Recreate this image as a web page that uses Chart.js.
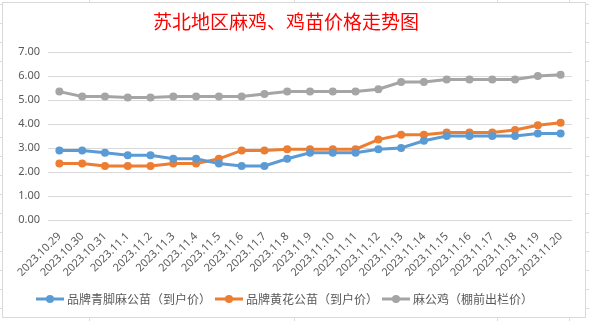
<!DOCTYPE html>
<html><head><meta charset="utf-8">
<script src="https://cdn.jsdelivr.net/npm/chart.js@4/dist/chart.umd.min.js"></script>
<style>html,body{margin:0;padding:0;background:#fff;}#wrap{width:589px;height:321px;position:relative;}</style>
</head><body><div id="wrap"><canvas id="c" width="589" height="321"></canvas></div>
<script>
const titleText = '苏北地区麻鸡、鸡苗价格走势图';
const categories = ['2023.10.29','2023.10.30','2023.10.31','2023.11.1','2023.11.2','2023.11.3','2023.11.4','2023.11.5','2023.11.6','2023.11.7','2023.11.8','2023.11.9','2023.11.10','2023.11.11','2023.11.12','2023.11.13','2023.11.14','2023.11.15','2023.11.16','2023.11.17','2023.11.18','2023.11.19','2023.11.20'];
const seriesNames = ['品牌青脚麻公苗（到户价）','品牌黄花公苗（到户价）','麻公鸡（棚前出栏价）'];
const blueValues = [2.9,2.9,2.8,2.7,2.7,2.55,2.55,2.35,2.25,2.25,2.55,2.8,2.8,2.8,2.95,3.0,3.3,3.5,3.5,3.5,3.5,3.6,3.6];
const orangeValues = [2.35,2.35,2.25,2.25,2.25,2.35,2.35,2.55,2.9,2.9,2.95,2.95,2.95,2.95,3.35,3.55,3.55,3.65,3.65,3.65,3.75,3.95,4.05];
const greyValues = [5.35,5.15,5.15,5.1,5.1,5.15,5.15,5.15,5.15,5.25,5.35,5.35,5.35,5.35,5.45,5.75,5.75,5.85,5.85,5.85,5.85,6.0,6.05];
const yTicks = [0,1,2,3,4,5,6,7];
const colors = ['#5B9BD5','#ED7D31','#A5A5A5'];

function legendIcon(color){
  const cv = document.createElement('canvas');
  cv.width = 28; cv.height = 10;
  const g = cv.getContext('2d');
  g.strokeStyle = color; g.lineWidth = 3;
  g.beginPath(); g.moveTo(0,5); g.lineTo(28,5); g.stroke();
  g.fillStyle = color; g.beginPath(); g.arc(14,5,4,0,Math.PI*2); g.fill();
  return cv;
}
const icons = colors.map(legendIcon);

const bgPlugin = {
  id:'bg',
  beforeDraw(chart){
    const ctx = chart.ctx;
    ctx.save();
    ctx.fillStyle = '#fff';
    ctx.fillRect(0,0,chart.width,chart.height);
    ctx.strokeStyle = '#dcdcdc'; ctx.lineWidth = 1;
    [89,294,497,569].forEach(x=>{ctx.beginPath();ctx.moveTo(x+0.5,0);ctx.lineTo(x+0.5,chart.height);ctx.stroke();});
    for(let y=4;y<chart.height;y+=19){ctx.beginPath();ctx.moveTo(0,y+0.5);ctx.lineTo(chart.width,y+0.5);ctx.stroke();}
    ctx.fillStyle = '#fff';
    ctx.fillRect(2,2,584,316);
    ctx.strokeStyle = '#d9d9d9';
    ctx.strokeRect(2.5,2.5,583,315);
    ctx.restore();
  }
};

const mk = (label, data, color) => ({
  label, data, borderColor: color, backgroundColor: color,
  borderWidth: 3, pointRadius: 4, pointHoverRadius: 4,
  pointBackgroundColor: color, pointBorderColor: color, pointBorderWidth: 0,
  tension: 0, fill: false
});

new Chart(document.getElementById('c'), {
  type: 'line',
  data: {
    labels: categories,
    datasets: [
      mk(seriesNames[0], blueValues, colors[0]),
      mk(seriesNames[1], orangeValues, colors[1]),
      mk(seriesNames[2], greyValues, colors[2])
    ]
  },
  plugins: [bgPlugin],
  options: {
    responsive: false,
    animation: false,
    devicePixelRatio: 1,
    layout: { padding: { top: 0, left: 0, right: 17, bottom: 6 } },
    scales: {
      x: {
        offset: true,
        grid: { display: false, drawTicks: false },
        border: { display: false },
        ticks: {
          color: '#595959', autoSkip: false, maxRotation: 45, minRotation: 45,
          font: { family: 'Noto Sans', size: 11 }, padding: 10
        },
        afterFit(s){ s.height = 66; }
      },
      y: {
        min: 0, max: 7,
        afterBuildTicks(s){ s.ticks = yTicks.map(v=>({value:v})); },
        grid: { color: '#d9d9d9', drawTicks: false, lineWidth: 1 },
        border: { display: false },
        ticks: {
          color: '#595959', padding: 8,
          font: { family: 'Noto Sans', size: 11 },
          callback: v => Number(v).toFixed(2)
        },
        afterFit(s){ s.width = 48; }
      }
    },
    plugins: {
      title: {
        display: true, text: titleText, color: '#FF0000',
        font: { family: 'Noto Sans CJK SC', size: 19, weight: 'normal' },
        padding: { top: 10, bottom: 19.2 }
      },
      legend: {
        position: 'bottom',
        labels: {
          color: '#595959', padding: 7, usePointStyle: true, pointStyleWidth: 22, boxHeight: 10,
          font: { family: 'Noto Sans CJK SC', size: 12 },
          generateLabels(chart){
            return chart.data.datasets.map((d,i)=>({
              text: d.label, pointStyle: icons[i], fillStyle: colors[i], strokeStyle: colors[i],
              lineWidth: 0, hidden: false, datasetIndex: i, fontColor: '#595959'
            }));
          }
        }
      },
      tooltip: { enabled: false }
    }
  }
});
</script></body></html>
